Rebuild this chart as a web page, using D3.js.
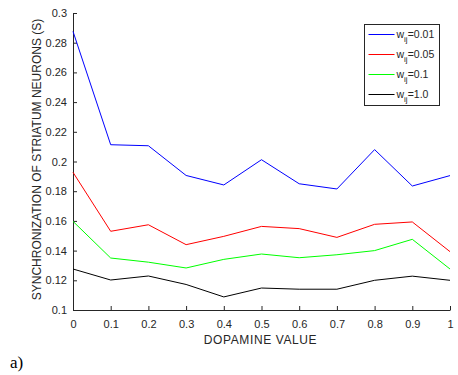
<!DOCTYPE html>
<html>
<head>
<meta charset="utf-8">
<script src="https://cdn.jsdelivr.net/npm/d3@7"></script>
<style>
  body { margin: 0; background: #fff; }
  text { font-family: "Liberation Sans", Arial, sans-serif; }
</style>
</head>
<body>
<div class="chart"></div>
<script>
// data
var dopamine = [0, 0.1, 0.2, 0.3, 0.4, 0.5, 0.6, 0.7, 0.8, 0.9, 1];
var w001 = [0.2876, 0.2113, 0.2106, 0.1906, 0.1842, 0.2012, 0.1850, 0.1815, 0.2080, 0.1835, 0.1905];
var w005 = [0.1927, 0.1530, 0.1574, 0.1440, 0.1496, 0.1563, 0.1548, 0.1489, 0.1577, 0.1593, 0.1393];
var w01  = [0.1597, 0.1350, 0.1322, 0.1283, 0.1341, 0.1377, 0.1352, 0.1372, 0.1400, 0.1476, 0.1276];
var w10  = [0.1276, 0.1202, 0.1229, 0.1172, 0.1088, 0.1148, 0.1140, 0.1140, 0.1200, 0.1228, 0.1200];
var seriesNames = ["0.01", "0.05", "0.1", "1.0"];
var seriesColors = ["#0000ff", "#ff0000", "#00ff00", "#000000"];
var yTicks = [0.1, 0.12, 0.14, 0.16, 0.18, 0.2, 0.22, 0.24, 0.26, 0.28, 0.3];

var svgWidth = 458;
var svgHeight = 375;

var margin = { top: 13, right: 8, bottom: 65, left: 73 };
var width = svgWidth - margin.left - margin.right;
var height = svgHeight - margin.top - margin.bottom;

var svg = d3.select(".chart")
  .append("svg")
  .attr("width", svgWidth)
  .attr("height", svgHeight);

var chartGroup = svg.append("g")
  .attr("transform", `translate(${margin.left}, ${margin.top})`);

var x = d3.scaleLinear().domain([0, 1]).range([0, width]);
var y = d3.scaleLinear().domain([0.1, 0.3]).range([height, 0]);

// axes (inward ticks, matlab style)
var bottomAxis = d3.axisBottom(x)
  .tickValues(dopamine)
  .tickFormat(d => d === 0 || d === 1 ? String(d) : d3.format(".1f")(d))
  .tickSizeInner(-4).tickSizeOuter(0).tickPadding(10);
var leftAxis = d3.axisLeft(y)
  .tickValues(yTicks)
  .tickFormat(d => +d.toFixed(2) + "")
  .tickSizeInner(-4).tickSizeOuter(0).tickPadding(6);

var xAxisG = chartGroup.append("g")
  .attr("transform", `translate(0, ${height})`)
  .call(bottomAxis);
var yAxisG = chartGroup.append("g")
  .call(leftAxis);

[xAxisG, yAxisG].forEach(function(g) {
  g.select(".domain").attr("stroke", "#262626");
  g.selectAll(".tick line").attr("stroke", "#262626");
  g.selectAll(".tick text")
    .attr("fill", "#262626")
    .style("font-size", "11px")
    .style("font-family", "'Liberation Sans', Arial, sans-serif");
});

// lines
var allSeries = [w001, w005, w01, w10];
var line = d3.line()
  .x((d, i) => x(dopamine[i]))
  .y(d => y(d));

allSeries.forEach(function(s, i) {
  chartGroup.append("path")
    .datum(s)
    .attr("fill", "none")
    .attr("stroke", seriesColors[i])
    .attr("stroke-width", 1)
    .attr("d", line);
});

// axis labels
chartGroup.append("text")
  .attr("transform", "rotate(-90)")
  .attr("x", -height / 2 + 2)
  .attr("y", -margin.left + 41)
  .attr("text-anchor", "middle")
  .attr("fill", "#262626")
  .style("font-size", "12px")
  .text("SYNCHRONIZATION OF STRIATUM NEURONS (S)");

chartGroup.append("text")
  .attr("x", width / 2 - 1)
  .attr("y", height + 34)
  .attr("text-anchor", "middle")
  .attr("fill", "#262626")
  .style("font-size", "12px")
  .style("letter-spacing", "0.6px")
  .text("DOPAMINE VALUE");

// legend
var legend = svg.append("g").attr("transform", "translate(364.5, 24.5)");
legend.append("rect")
  .attr("width", 75).attr("height", 81)
  .attr("fill", "#fff")
  .attr("stroke", "#262626")
  .attr("stroke-width", 1);

seriesNames.forEach(function(name, i) {
  var ly = 10 + i * 20;
  legend.append("line")
    .attr("x1", 4).attr("x2", 30)
    .attr("y1", ly).attr("y2", ly)
    .attr("stroke", seriesColors[i]);
  var t = legend.append("text")
    .attr("x", 32)
    .attr("y", ly + 3)
    .attr("fill", "#262626")
    .style("font-size", "10.5px");
  t.append("tspan").text("w");
  t.append("tspan").attr("dy", 4).style("font-size", "8px").text("ij");
  t.append("tspan").attr("dy", -4).text("=" + name);
});

// panel label
svg.append("text")
  .attr("x", 10)
  .attr("y", 368)
  .style("font-family", "'Liberation Serif', 'Times New Roman', serif")
  .style("font-size", "17px")
  .attr("fill", "#000")
  .text("a)");
</script>
</body>
</html>
